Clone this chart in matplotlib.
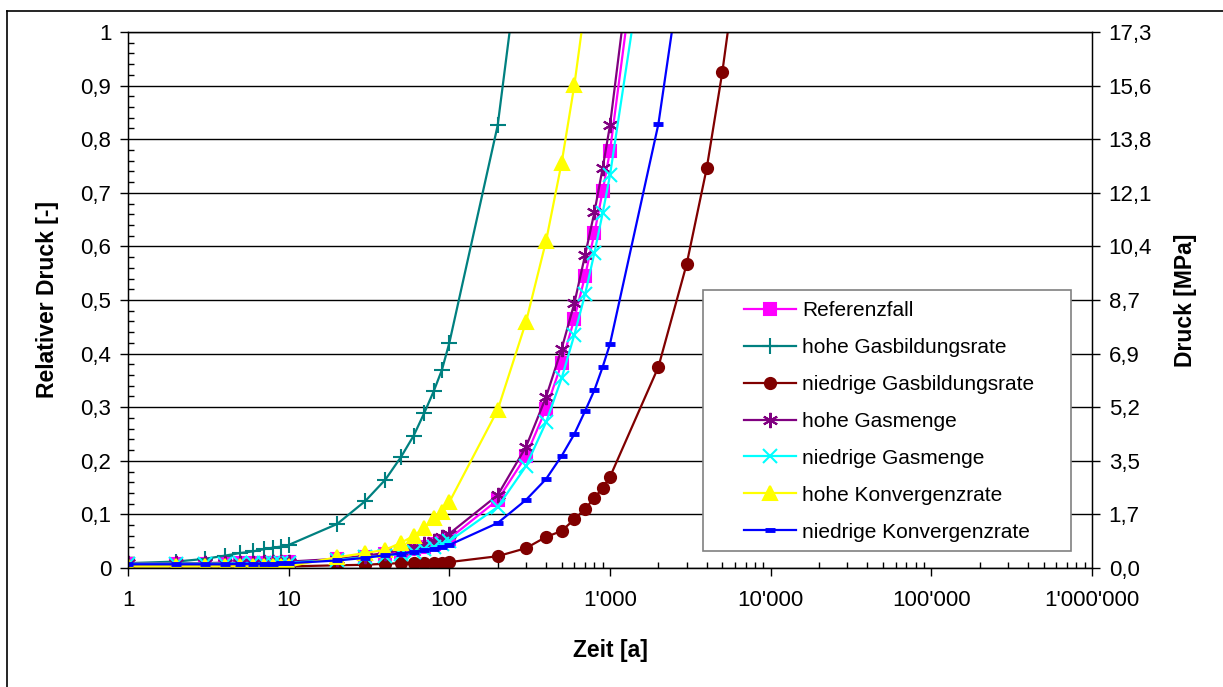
import matplotlib
matplotlib.use("Agg")
import matplotlib.pyplot as plt
from matplotlib.patches import Rectangle
from matplotlib.lines import Line2D
from matplotlib.ticker import FixedLocator, MultipleLocator, FuncFormatter, NullFormatter

plt.rcParams['font.family'] = ['Liberation Sans', 'DejaVu Sans']

# Zeitpunkte [a]
zeit = [1, 2, 3, 4, 5, 6, 7, 8, 9, 10,
        20, 30, 40, 50, 60, 70, 80, 90, 100,
        200, 300, 400, 500, 600, 700, 800, 900, 1000,
        2000, 3000, 4000, 5000, 6000]

# relative Druecke je Fall
referenzfall = [0.008, 0.008, 0.008, 0.009, 0.009, 0.009, 0.010, 0.010, 0.010, 0.011,
                0.016, 0.021, 0.026, 0.030, 0.035, 0.040, 0.045, 0.050, 0.055,
                0.127, 0.209, 0.297, 0.382, 0.465, 0.545, 0.625, 0.703, 0.778,
                1.47]
hohe_gasbildung = [0.009, 0.012, 0.017, 0.023, 0.028, 0.031, 0.035, 0.038, 0.040, 0.043,
                   0.082, 0.125, 0.165, 0.207, 0.247, 0.290, 0.330, 0.370, 0.420,
                   0.826, 1.24]
niedrige_gasbildung = [0.003, 0.003, 0.003, 0.003, 0.003, 0.003, 0.003, 0.003, 0.003, 0.003,
                       0.005, 0.006, 0.008, 0.009, 0.010, 0.010, 0.010, 0.010, 0.011,
                       0.022, 0.037, 0.058, 0.069, 0.091, 0.110, 0.131, 0.149, 0.170,
                       0.375, 0.567, 0.746, 0.925, 1.10]
hohe_gasmenge = [0.009, 0.009, 0.009, 0.010, 0.010, 0.010, 0.011, 0.011, 0.011, 0.012,
                 0.017, 0.023, 0.028, 0.034, 0.040, 0.045, 0.050, 0.057, 0.064,
                 0.136, 0.226, 0.319, 0.409, 0.494, 0.584, 0.664, 0.746, 0.826,
                 1.55]
niedrige_gasmenge = [0.008, 0.008, 0.008, 0.008, 0.009, 0.009, 0.009, 0.010, 0.010, 0.010,
                     0.015, 0.020, 0.023, 0.026, 0.030, 0.035, 0.040, 0.045, 0.050,
                     0.114, 0.190, 0.272, 0.354, 0.435, 0.511, 0.588, 0.662, 0.733,
                     1.33]
hohe_konvergenz = [0.003, 0.003, 0.003, 0.003, 0.003, 0.003, 0.003, 0.003, 0.003, 0.003,
                   0.020, 0.028, 0.034, 0.047, 0.060, 0.075, 0.093, 0.104, 0.123,
                   0.295, 0.459, 0.610, 0.756, 0.901, 1.05]
niedrige_konvergenz = [0.007, 0.007, 0.007, 0.007, 0.008, 0.008, 0.008, 0.008, 0.009, 0.009,
                       0.014, 0.019, 0.024, 0.027, 0.030, 0.033, 0.036, 0.039, 0.043,
                       0.084, 0.127, 0.166, 0.209, 0.250, 0.293, 0.332, 0.375, 0.418,
                       0.828, 1.19]

serien = [
    ("Referenzfall", referenzfall, "#FF00FF", "s"),
    ("hohe Gasbildungsrate", hohe_gasbildung, "#008080", "+"),
    ("niedrige Gasbildungsrate", niedrige_gasbildung, "#800000", "o"),
    ("hohe Gasmenge", hohe_gasmenge, "#800080", (6, 2, 0)),
    ("niedrige Gasmenge", niedrige_gasmenge, "#00FFFF", "x"),
    ("hohe Konvergenzrate", hohe_konvergenz, "#FFFF00", "^"),
    ("niedrige Konvergenzrate", niedrige_konvergenz, "#0000FF", "_"),
]

y_ticks = [0, 0.1, 0.2, 0.3, 0.4, 0.5, 0.6, 0.7, 0.8, 0.9, 1]
mpa_labels = ['0,0', '1,7', '3,5', '5,2', '6,9', '8,7', '10,4', '12,1', '13,8', '15,6', '17,3']
x_ticks = [1, 10, 100, 1000, 10000, 100000, 1000000]

fig = plt.figure(figsize=(12.23, 6.87), dpi=100)
ax = fig.add_axes([128 / 1223, 1 - 568 / 687, 964 / 1223, 536 / 687])

# outer chart border
fig.add_artist(Line2D([7 / 1223, 7 / 1223], [0, 1 - 11 / 687], transform=fig.transFigure,
                      color='black', lw=1.2))
fig.add_artist(Line2D([7 / 1223, 1], [1 - 11 / 687, 1 - 11 / 687], transform=fig.transFigure,
                      color='black', lw=1.2))

handles = []
for name, werte, farbe, marker in serien:
    ms = 8
    mew = 1.5
    if marker == "+":
        ms = 11
    elif marker == "x":
        ms = 10
    elif marker == "_":
        ms = 7
        mew = 3.5
    elif marker == (6, 2, 0):
        ms = 11
    elif marker == "^":
        ms = 10
    h, = ax.plot(zeit[:len(werte)], werte, color=farbe, lw=1.6, marker=marker,
                 markersize=ms, markeredgewidth=mew, markerfacecolor=farbe,
                 markeredgecolor=farbe, label=name, clip_on=True)
    handles.append(h)

ax.set_xscale('log')
ax.set_xlim(1, 1e6)
ax.set_ylim(0, 1)

ax.xaxis.set_major_locator(FixedLocator(x_ticks))
ax.xaxis.set_major_formatter(FuncFormatter(lambda v, p: format(int(round(v)), ',').replace(',', "'")))
ax.xaxis.set_minor_formatter(NullFormatter())
ax.set_yticks(y_ticks)
ax.yaxis.set_major_formatter(FuncFormatter(
    lambda v, p: str(int(round(v))) if abs(v - round(v)) < 1e-9 else f"{v:.1f}".replace('.', ',')))
ax.yaxis.set_minor_locator(MultipleLocator(0.02))

ax.tick_params(axis='both', which='major', direction='out', length=6, width=1,
               labelsize=16, pad=6)
ax.tick_params(axis='both', which='minor', direction='in', length=4, width=1)
ax.tick_params(axis='x', which='major', pad=10)

ax.grid(axis='y', which='major', color='black', lw=1)
for s in ax.spines.values():
    s.set_linewidth(1)

ax2 = ax.twinx()
ax2.set_ylim(0, 1)
ax2.set_yticks(y_ticks)
ax2.set_yticklabels(mpa_labels)
ax2.tick_params(axis='y', direction='out', length=6, width=1, labelsize=16, pad=6)
ax2.set_ylabel("Druck [MPa]", fontsize=16.5, fontweight='bold')
ax2.yaxis.set_label_coords(1.085, 0.5)

ax.set_xlabel("Zeit [a]", fontsize=16.5, fontweight='bold')
ax.xaxis.set_label_coords(0.5, -0.1325)
ax.set_ylabel("Relativer Druck [-]", fontsize=16.5, fontweight='bold')
ax.yaxis.set_label_coords(-0.0716, 0.5)

# legend box
box = Rectangle((0.596, 0.032), 0.382, 0.487, transform=ax.transAxes, facecolor='white',
                edgecolor='#808080', lw=1.2, zorder=5)
ax.add_patch(box)
leg = ax.legend(handles=handles, loc='upper left', bbox_to_anchor=((744 - 128) / 964, 0.498),
                frameon=False, fontsize=15, handlelength=2.5, handletextpad=0.3,
                labelspacing=0.86, borderpad=0, borderaxespad=0)
leg.set_zorder(6)

fig.savefig("out.png", dpi=100)
